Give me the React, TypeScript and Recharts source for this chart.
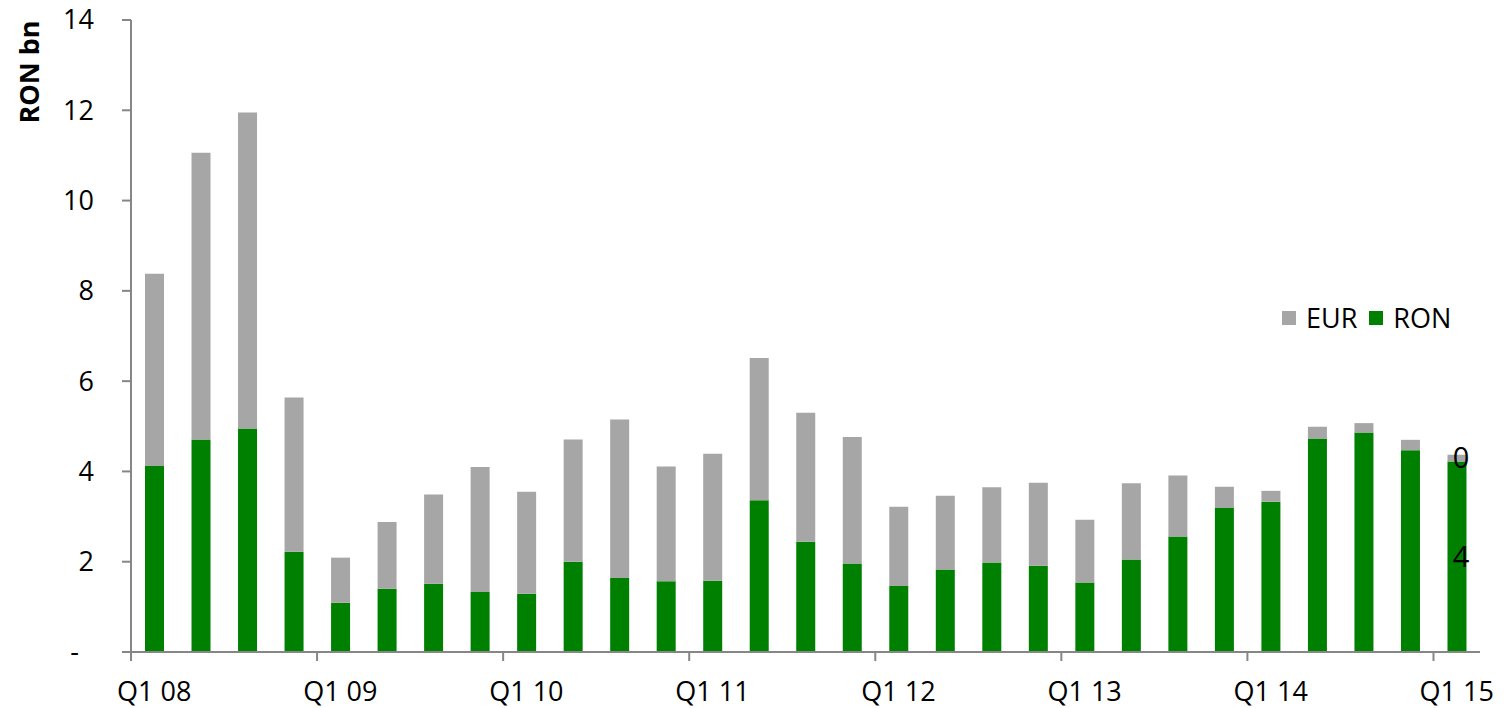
import React from 'react';
import { BarChart, Bar, XAxis, YAxis, Legend, LabelList, Label } from 'recharts';

const quarters = [
  'Q1 08', 'Q2 08', 'Q3 08', 'Q4 08',
  'Q1 09', 'Q2 09', 'Q3 09', 'Q4 09',
  'Q1 10', 'Q2 10', 'Q3 10', 'Q4 10',
  'Q1 11', 'Q2 11', 'Q3 11', 'Q4 11',
  'Q1 12', 'Q2 12', 'Q3 12', 'Q4 12',
  'Q1 13', 'Q2 13', 'Q3 13', 'Q4 13',
  'Q1 14', 'Q2 14', 'Q3 14', 'Q4 14',
  'Q1 15',
];

const ronValues = [
  4.12, 4.71, 4.95, 2.22,
  1.09, 1.40, 1.51, 1.33,
  1.29, 2.00, 1.64, 1.57,
  1.58, 3.36, 2.44, 1.96,
  1.46, 1.83, 1.98, 1.91,
  1.54, 2.05, 2.56, 3.19,
  3.33, 4.73, 4.86, 4.47,
  4.22,
];

const eurValues = [
  4.26, 6.35, 7.00, 3.42,
  1.00, 1.48, 1.98, 2.77,
  2.26, 2.71, 3.51, 2.54,
  2.81, 3.15, 2.86, 2.80,
  1.76, 1.63, 1.67, 1.84,
  1.39, 1.69, 1.35, 0.47,
  0.24, 0.26, 0.21, 0.23,
  0.15,
];

const yTicks = [0, 2, 4, 6, 8, 10, 12, 14];
const seriesNames = ['EUR', 'RON'];
const seriesColors: Record<string, string> = { EUR: '#A6A6A6', RON: '#008000' };
const yAxisTitle = 'RON bn';

const data = quarters.map((q, i) => ({ q, RON: ronValues[i], EUR: eurValues[i] }));

const WIDTH = 1505;
const HEIGHT = 708;
const MARGIN = { top: 20, right: 25, bottom: 0, left: 71 };
const Y_AXIS_W = 60;
const X_AXIS_H = 56;
const PLOT_W = WIDTH - MARGIN.left - MARGIN.right - Y_AXIS_W;
const BAND = PLOT_W / quarters.length;
const FONT = 'Open Sans, sans-serif';
const AXIS_COLOR = '#868686';
const TICK = 9;
const FS = 27;

const XTick = (props: any) => {
  const { x, y, payload } = props;
  const lx = x - BAND / 2;
  return (
    <g>
      <line x1={lx} x2={lx} y1={y - TICK} y2={y} stroke={AXIS_COLOR} strokeWidth={2} />
      <text x={x} y={y + 40} textAnchor="middle" fill="#000" fontFamily={FONT} fontSize={FS}>
        {payload.value}
      </text>
    </g>
  );
};

const YTick = (props: any) => {
  const { x, y, payload } = props;
  const isZero = payload.value === 0;
  return (
    <text
      x={isZero ? x - 15 : x}
      y={y}
      dy="0.35em"
      textAnchor="end"
      fill="#000"
      fontFamily={FONT}
      fontSize={FS}
    >
      {isZero ? '-' : payload.value}
    </text>
  );
};

const lastIndex = data.length - 1;
const LastLabel = (props: any) => {
  const { x, y, width, height, value, index } = props;
  if (index !== lastIndex) return null;
  return (
    <text
      x={x + width / 2 + 4}
      y={y + height / 2}
      dy="0.35em"
      textAnchor="middle"
      fill="#000"
      fontFamily={FONT}
      fontSize={29}
    >
      {Math.round(value)}
    </text>
  );
};

const YTitle = (props: any) => {
  const { viewBox } = props;
  const cx = viewBox.x - 43;
  const cy = viewBox.y + 52;
  return (
    <text
      x={cx}
      y={cy}
      transform={`rotate(-90, ${cx}, ${cy})`}
      textAnchor="middle"
      dominantBaseline="central"
      fontFamily={FONT}
      fontWeight="bold"
      fontSize={27}
      fill="#000"
    >
      {yAxisTitle}
    </text>
  );
};

const LegendContent = () => (
  <div style={{ display: 'flex', alignItems: 'center', fontFamily: FONT, fontSize: FS, color: '#000', lineHeight: 1 }}>
    {seriesNames.map((n) => (
      <div key={n} style={{ display: 'flex', alignItems: 'center', marginRight: 12 }}>
        <div style={{ width: 14, height: 14, background: seriesColors[n], marginRight: 10 }} />
        <span>{n}</span>
      </div>
    ))}
  </div>
);

export default function App() {
  return (
    <div style={{ position: 'absolute', left: 0, top: 0, width: WIDTH, height: HEIGHT, background: '#fff' }}>
      <BarChart width={WIDTH} height={HEIGHT} data={data} margin={MARGIN} barSize={19}>
        <XAxis
          dataKey="q"
          interval={3}
          height={X_AXIS_H}
          tickSize={TICK}
          tickMargin={0}
          tickLine={false}
          axisLine={{ stroke: AXIS_COLOR, strokeWidth: 2 }}
          tick={<XTick />}
        />
        <YAxis
          domain={[0, 14]}
          ticks={yTicks}
          width={Y_AXIS_W}
          tickSize={TICK}
          tickMargin={28}
          tickLine={{ stroke: AXIS_COLOR, strokeWidth: 2 }}
          axisLine={{ stroke: AXIS_COLOR, strokeWidth: 2 }}
          tick={<YTick />}
          interval={0}
        >
          <Label content={<YTitle />} />
        </YAxis>
        <Legend
          layout="horizontal"
          verticalAlign="middle"
          align="center"
          content={<LegendContent />}
          wrapperStyle={{ position: 'absolute', left: 1282, top: 304, width: 'auto', height: 'auto' }}
        />
        <Bar dataKey="RON" stackId="a" fill={seriesColors.RON} isAnimationActive={false}>
          <LabelList dataKey="RON" content={<LastLabel />} />
        </Bar>
        <Bar dataKey="EUR" stackId="a" fill={seriesColors.EUR} isAnimationActive={false}>
          <LabelList dataKey="EUR" content={<LastLabel />} />
        </Bar>
      </BarChart>
    </div>
  );
}
